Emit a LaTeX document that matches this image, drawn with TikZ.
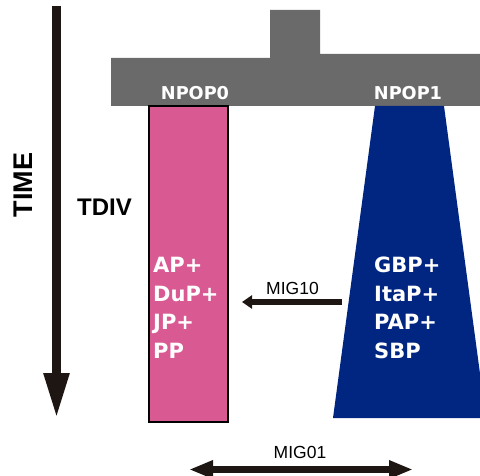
\documentclass[tikz,border=0pt]{standalone}
\usepackage{fontspec}
\setmainfont{Liberation Sans}
\newfontfamily\popfont{DejaVu Sans}
\usetikzlibrary{arrows.meta}
\definecolor{ancgray}{RGB}{106,106,106}
\definecolor{popzero}{RGB}{217,89,147}
\definecolor{popone}{RGB}{0,38,130}
\definecolor{arrowblack}{RGB}{30,22,18}
\tikzset{%
  % Specifications for style of nodes:
        poplabel/.style = {text=white, inner sep=0pt,
                           font=\popfont\bfseries\fontsize{17.7}{20}\selectfont},
         poplist/.style = {text=white, inner sep=0pt, align=left, anchor=north west,
                           font=\popfont\bfseries\fontsize{21}{28.5}\selectfont},
        migtext/.style = {inner sep=0pt, font=\fontsize{17.5}{20}\selectfont},
        timetext/.style = {inner sep=0pt, font=\bfseries\fontsize{27}{30}\selectfont},
       migarrow/.style = {draw=arrowblack, line width=6pt},
}

\begin{document}
\begin{tikzpicture}[x=1pt, y=-1pt]
  \useasboundingbox (0,0) rectangle (480,476);
  \clip (0,0) rectangle (480,476);
  % Specification of shapes (ancestral population and the two daughters)

  \fill[ancgray]  (111,58) -- (270,58) -- (270,10) -- (320,10) -- (320,54)
                  -- (480,54) -- (480,106) -- (111,106) -- cycle;
  \node (pop0) [fill=popzero, draw=black, line width=1.5pt, minimum width=79pt,
                minimum height=316pt, inner sep=0pt] at (188.5,264) {};
  \fill[popone]   (375,106) -- (444,106) -- (486,418) -- (333,418) -- cycle;

  \node (npop0)   [poplabel] at (195,93) {NPOP0};
  \node (npop1)   [poplabel] at (408,93) {NPOP1};
  \node (list0)   [poplist] at (153,257) {AP+\\DuP+\\JP+\\PP};
  \node (list1)   [poplist] at (374,257) {GBP+\\ItaP+\\PAP+\\SBP};

  \node (time)    [timetext, rotate=90] at (23.5,185) {TIME};
  \node (tdiv)    [timetext, font=\bfseries\fontsize{24}{28}\selectfont] at (104.5,207) {TDIV};
  \node (mig10)   [migtext] at (292.5,288.5) {MIG10};
  \node (mig01)   [migtext] at (300,452) {MIG01};

  \coordinate (timetop) at (56.5,6);
  \coordinate (timeend) at (56.5,418);
  \coordinate (from1)   at (342,302);
  \coordinate (to0)     at (242,302);
  \coordinate (west01)  at (189,469.5);
  \coordinate (east01)  at (413,469.5);

  \draw[draw=arrowblack, line width=8.5pt, -{Triangle[length=45pt, width=24pt]}]
                  (timetop) -- (timeend);
  \draw[migarrow, -{Triangle[length=10pt, width=13pt]}] (from1) -- (to0);
  \draw[migarrow, line width=6.5pt, {Triangle[length=24pt, width=17pt]}-{Triangle[length=24pt, width=17pt]}]
                  (west01) -- (east01);

\end{tikzpicture}
\end{document}
